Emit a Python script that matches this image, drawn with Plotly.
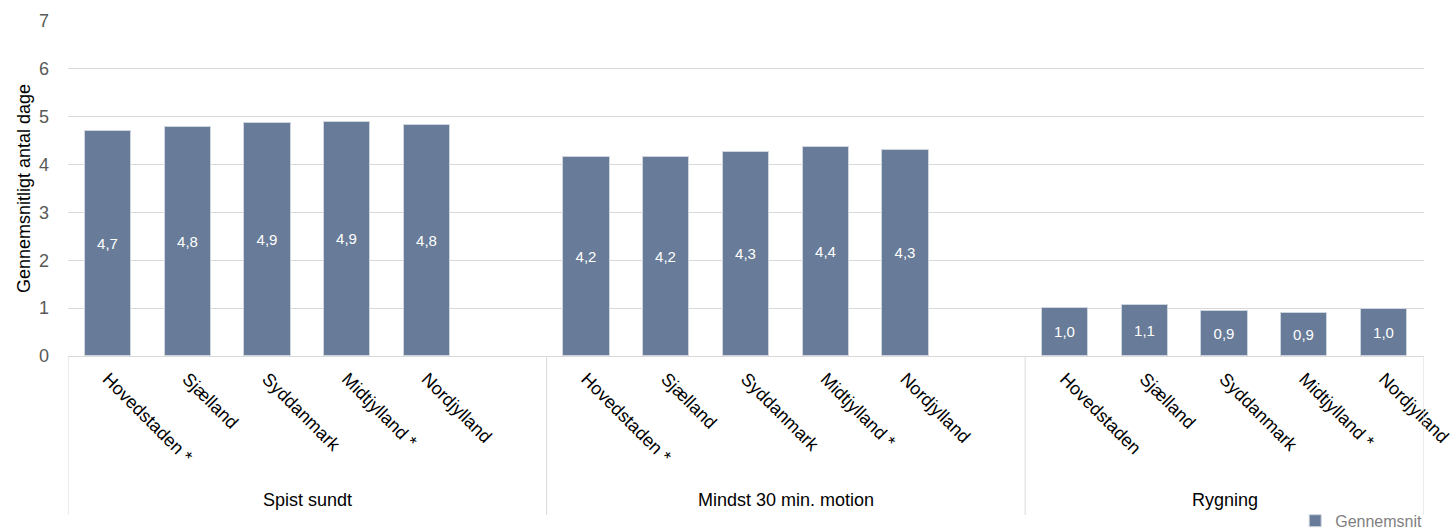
import plotly.graph_objects as go

groups = ["Spist sundt", "Mindst 30 min. motion", "Rygning"]
region_labels = [
    ["Hovedstaden *", "Sjælland", "Syddanmark", "Midtjylland *", "Nordjylland"],
    ["Hovedstaden *", "Sjælland", "Syddanmark", "Midtjylland *", "Nordjylland"],
    ["Hovedstaden", "Sjælland", "Syddanmark", "Midtjylland *", "Nordjylland"],
]
spist_sundt = [4.71, 4.78, 4.86, 4.90, 4.83]
motion = [4.16, 4.16, 4.27, 4.36, 4.31]
rygning = [1.00, 1.07, 0.94, 0.89, 0.99]
series = [spist_sundt, motion, rygning]
series_name = "Gennemsnit"
y_ticks = [0, 1, 2, 3, 4, 5, 6, 7]

FONT = "Liberation Sans, Arial, sans-serif"
BAR = "#687b98"
GRID = "#d9d9d9"

# slot layout: each group gets its regions plus one empty slot (except last)
xs, ys, tickvals, ticktext = [], [], [], []
bounds = [-0.5]
offset = 0
for gi, (labs, vals) in enumerate(zip(region_labels, series)):
    for j, (lab, v) in enumerate(zip(labs, vals)):
        xs.append(offset + j)
        ys.append(v)
        tickvals.append(offset + j)
        ticktext.append(lab)
    n = len(labs) + (1 if gi < len(groups) - 1 else 0)
    offset += n
    bounds.append(offset - 0.5)

fig = go.Figure()
fig.add_trace(go.Bar(
    x=xs, y=ys, name=series_name, width=0.58,
    marker=dict(color=BAR, line=dict(color="#cfd5de", width=1)),
    texttemplate="%{y:.1f}", textposition="inside", insidetextanchor="middle",
    textfont=dict(color="white", size=15, family=FONT),
    showlegend=True,
))

PLOT_H = 532 - 21 - 176
div_y = -(515 - 356) / PLOT_H
lab_y = -(500 - 356) / PLOT_H

shapes = []
for b in bounds:
    shapes.append(dict(type="line", xref="x", yref="paper", x0=b, x1=b, y0=0, y1=div_y,
                       line=dict(color=GRID, width=1)))
annotations = []
for gi, g in enumerate(groups):
    annotations.append(dict(text=g, xref="x", yref="paper", x=(bounds[gi] + bounds[gi + 1]) / 2,
                            y=lab_y, yanchor="middle", showarrow=False,
                            font=dict(size=18, color="black", family=FONT)))

fig.update_layout(
    width=1452, height=532,
    margin=dict(l=68, r=28, t=21, b=176, autoexpand=False),
    paper_bgcolor="white", plot_bgcolor="white",
    separators=", ",
    font=dict(family=FONT, size=15, color="black"),
    shapes=shapes, annotations=annotations,
    bargap=0,
    legend=dict(xref="container", yref="container", x=0.892, xanchor="left", y=0.053, yanchor="top",
                font=dict(size=16, color="#7f7f7f", family=FONT),
                bgcolor="rgba(0,0,0,0)", itemwidth=30, tracegroupgap=0),
    xaxis=dict(range=[bounds[0], bounds[-1]], tickmode="array", tickvals=tickvals, ticktext=ticktext,
               tickangle=45, showgrid=False, zeroline=False, showline=False, ticks="",
               automargin=False, ticklabeloverflow="allow", ticklabelstandoff=8,
               tickfont=dict(size=18, color="black", family=FONT), fixedrange=True),
    yaxis=dict(range=[0, 7], tickvals=y_ticks, showgrid=True, gridcolor=GRID, gridwidth=1,
               zeroline=True, zerolinecolor=GRID, zerolinewidth=1, ticks="", showline=False,
               automargin=False, ticklabelstandoff=18,
               tickfont=dict(size=18, color="#595959", family=FONT),
               title=dict(text="Gennemsnitligt antal dage", font=dict(size=18, color="black", family=FONT),
                          standoff=3)),
)

fig.write_html("out.html")
